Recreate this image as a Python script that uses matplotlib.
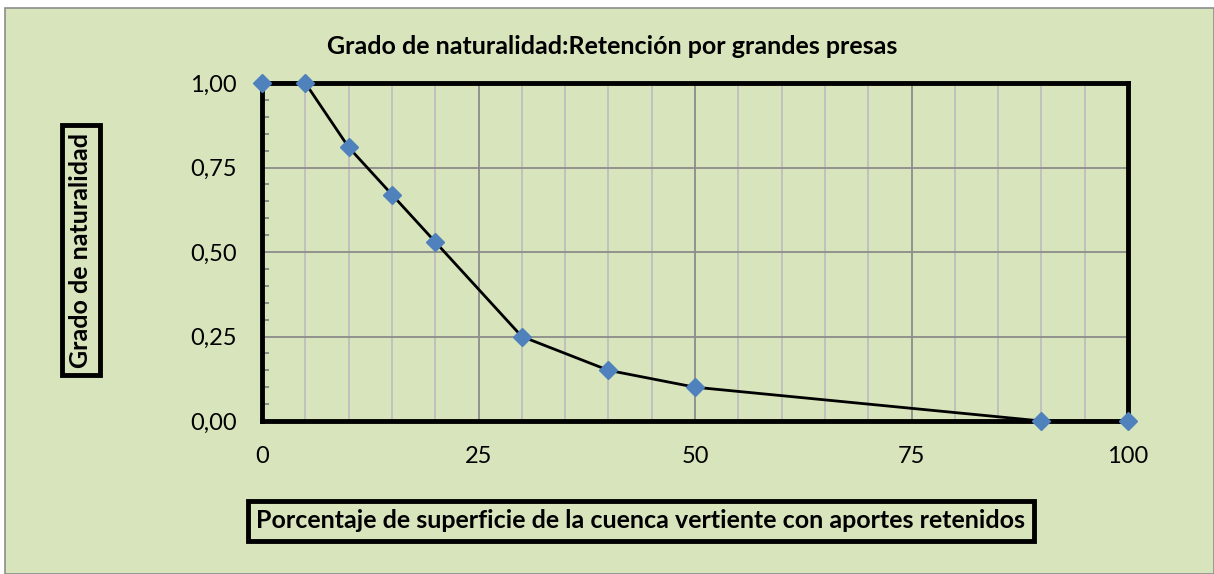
import matplotlib
matplotlib.use("Agg")
import matplotlib.pyplot as plt
from matplotlib.patches import Rectangle
from matplotlib.ticker import MultipleLocator, FuncFormatter

# datos
porcentaje = [0, 5, 10, 15, 20, 30, 40, 50, 90, 100]
grado = [1.0, 1.0, 0.81, 0.67, 0.53, 0.25, 0.15, 0.10, 0.0, 0.0]
xticks = [0, 25, 50, 75, 100]
yticks = [0.0, 0.25, 0.5, 0.75, 1.0]

fondo = '#d8e4bc'
plt.rcParams['font.family'] = ['Lato', 'DejaVu Sans']

fig = plt.figure(figsize=(12.14, 5.74), dpi=100)
fig.patch.set_facecolor('white')
fig.patches.append(Rectangle((5/1214, 0), 1 - 5/1214, 1 - 8/574, transform=fig.transFigure,
                             facecolor=fondo, edgecolor='#8c8c8c', linewidth=1.2, zorder=-10))

ax = fig.add_axes([262/1214, 1 - 421/574, (1128 - 262)/1214, (421 - 83)/574])
ax.set_facecolor(fondo)
ax.plot(porcentaje, grado, color='black', linewidth=2, marker='D', markersize=9,
        markerfacecolor='#4f81bd', markeredgecolor='#4f81bd', clip_on=False, zorder=5)

ax.set_xlim(0, 100)
ax.set_ylim(0, 1)
ax.set_xticks(xticks)
ax.set_yticks(yticks)
ax.xaxis.set_minor_locator(MultipleLocator(5))
ax.yaxis.set_minor_locator(MultipleLocator(0.05))
ax.yaxis.set_major_formatter(FuncFormatter(lambda v, p: ('%.2f' % v).replace('.', ',')))
ax.grid(True, which='major', color='#8c8c8c', linewidth=1.3)
ax.grid(True, which='minor', axis='x', color='#bfbfbf', linewidth=1.3)
ax.tick_params(axis='x', which='both', length=0, pad=18, labelsize=17)
ax.tick_params(axis='y', which='major', length=0, pad=18, labelsize=17)
ax.tick_params(axis='y', which='minor', direction='in', length=5, width=1.2, color='#7f7f7f')
for s in ax.spines.values():
    s.set_linewidth(3.5)
    s.set_color('black')

fig.text(612/1214, 1 - 47/574, 'Grado de naturalidad:Retención por grandes presas',
         ha='center', va='center', fontsize=18, fontweight='bold')
fig.text(641/1214, 1 - 521/574, 'Porcentaje de superficie de la cuenca vertiente con aportes retenidos',
         ha='center', va='center', fontsize=18, fontweight='bold',
         bbox=dict(boxstyle='square,pad=0.35', facecolor='none', edgecolor='black', linewidth=3.5))
fig.text(81/1214, 1 - 250/574, 'Grado de naturalidad', rotation=90,
         ha='center', va='center', fontsize=18, fontweight='bold',
         bbox=dict(boxstyle='square,pad=0.3', facecolor='none', edgecolor='black', linewidth=3.5))

fig.savefig('out.png', dpi=100, facecolor=fig.get_facecolor())
